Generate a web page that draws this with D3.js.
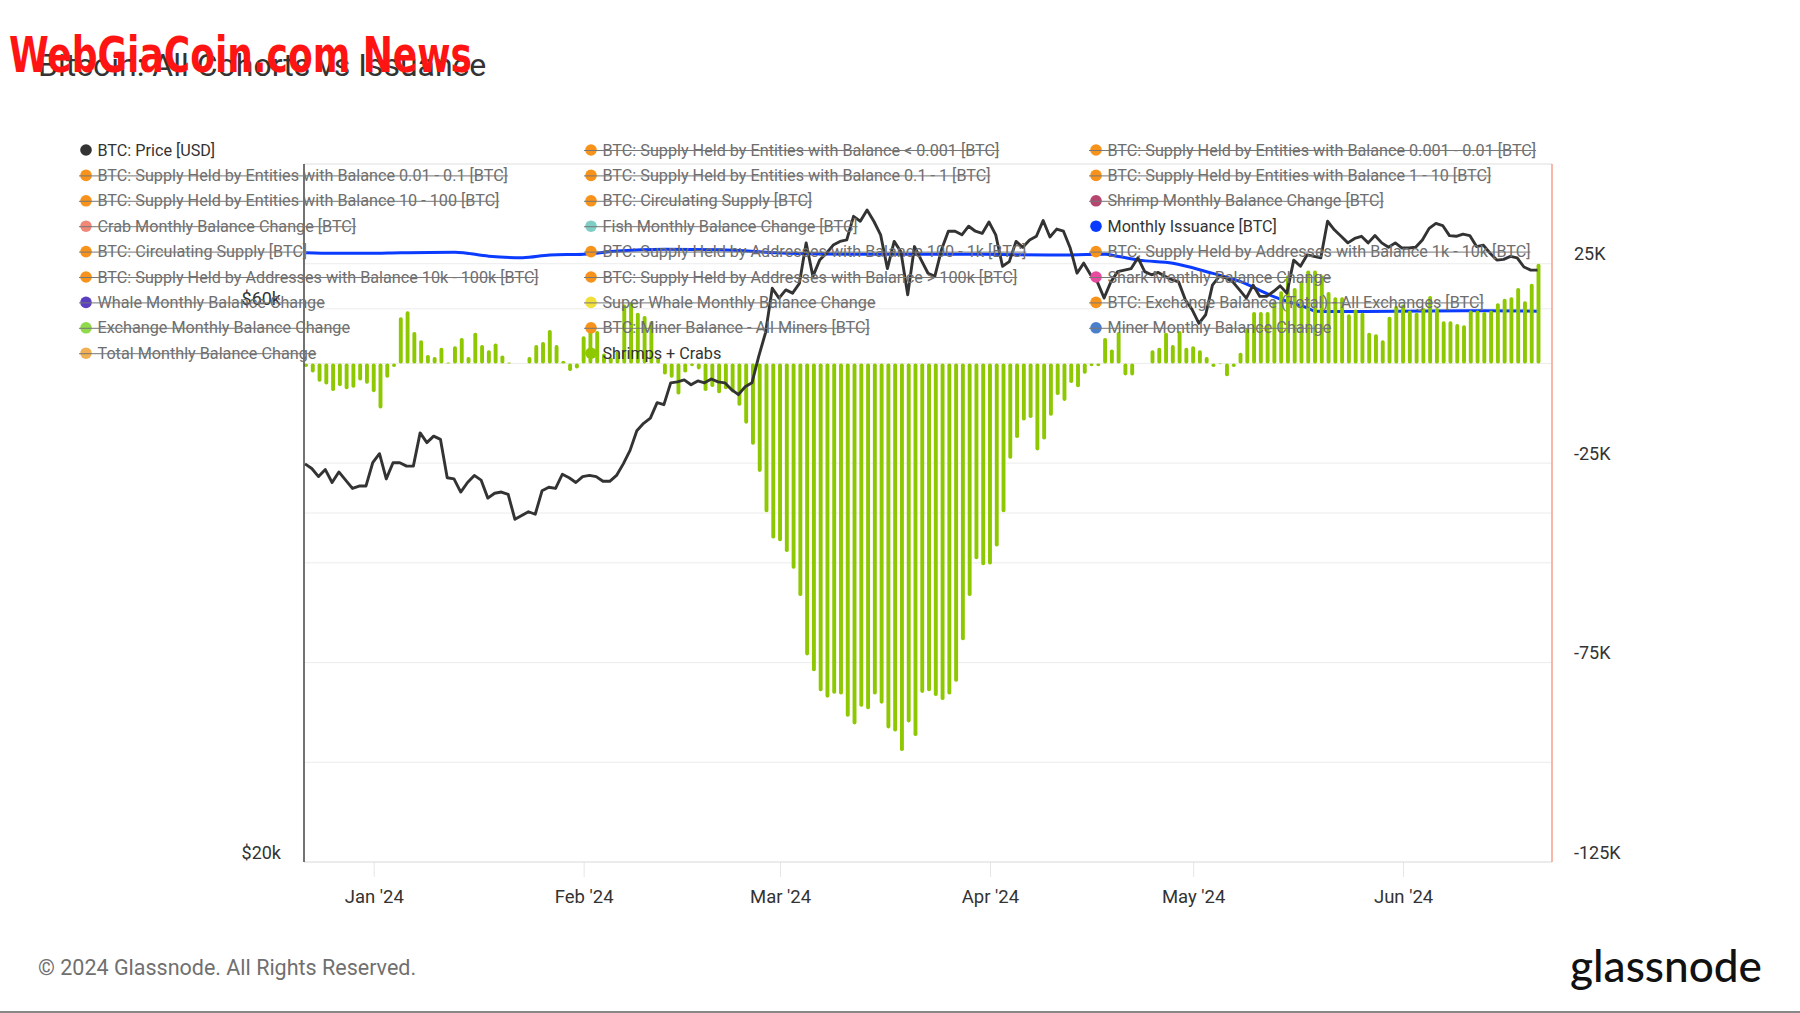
<!DOCTYPE html>
<html>
<head>
<meta charset="utf-8">
<script src="https://cdn.jsdelivr.net/npm/d3@7"></script>
<style>
  body { margin: 0; background: #fff; }
  svg { display: block; font-family: Roboto, "Noto Sans", sans-serif; }
</style>
</head>
<body>
<svg id="chart" width="1800" height="1013"></svg>
<script>
// ---- data ----
const startDay = "2023-12-22";

// BTC price, thousands of USD, one value per day from startDay
const priceK = [
  44.1, 43.7, 43.0, 43.6, 42.5, 43.4, 42.7, 42.0, 42.2, 42.2,
  44.2, 45.0, 42.8, 44.2, 44.2, 43.9, 43.9, 46.9, 46.0, 46.6,
  46.3, 42.9, 42.8, 41.7, 42.5, 43.1, 42.7, 41.2, 41.6, 41.7,
  41.5, 39.5, 39.8, 40.1, 39.9, 41.8, 42.1, 42.0, 43.2, 42.9,
  42.5, 43.0, 43.1, 43.0, 42.6, 42.6, 43.1, 44.1, 45.3, 47.1,
  47.8, 48.3, 49.8, 49.6, 51.8, 51.9, 52.1, 51.6, 52.0, 51.8,
  52.2, 51.9, 51.8,
  51.1, 50.6, 51.4, 51.8, 54.6, 57.2, 62.5, 61.3,
  62.3, 61.9, 63.1, 68.4, 64.0, 66.1, 67.0, 68.1, 68.6, 68.8,
  72.1, 71.4, 73.0, 71.4, 69.5, 65.0, 68.6, 67.2, 61.7, 67.9,
  66.1, 64.4, 64.0, 67.5, 70.0, 70.0, 69.5, 70.7, 70.0, 69.7,
  71.3, 69.5, 65.3, 65.9, 68.6, 67.8, 68.8, 69.3, 71.5, 69.2,
  70.3, 70.0, 67.7, 64.4, 65.7, 64.2, 63.3, 61.3, 63.3, 64.6,
  64.8, 65.0,
  66.4, 64.6, 64.2, 64.5, 64.0, 63.6, 63.3,
  61.1, 59.9, 58.3, 59.3, 62.9, 64.0, 63.8, 63.3, 62.3, 61.3,
  62.9, 61.5, 61.5, 62.1, 62.8, 61.9, 66.1, 65.3, 66.8, 66.6,
  66.4, 71.4, 70.2, 69.3, 68.4, 69.0, 69.3, 68.4, 69.4, 68.4,
  67.8, 68.4, 67.7, 67.7, 67.8, 68.8, 70.4, 71.1, 70.8, 69.4,
  69.3, 69.6, 69.4, 67.9, 68.1, 67.0, 66.1, 66.2, 66.6, 66.4,
  65.2, 64.8, 64.8
];

// Shrimps + Crabs monthly balance change, thousands of BTC, daily from startDay
const shrimpsCrabsK = [
  -0.9, -2.3, -4.6, -5.3, -6.9, -5.7, -6.5, -6.1, -4.3, -5.1, -7.2, -11.3, -3.6, -0.9,
  11.6, 13.1, 7.9, 5.8, 2.1, 1.6, 3.9, 0.25, 4.3, 6.4, 1.6, 7.7, 4.6, 3.3, 5.0, 2.0,
  0.25, 0, 0, 1.6, 4.6, 5.4, 8.4, 4.6, 0.6,
  -1.9, -1.3, 6.8, 8.1, 8.1, 2.5, 1.5, 3.0, 14.8, 15.4, 12.7, 11.9, 10.6, 1.4,
  -2.8, -3.6, -7.8, -2.3, -0.7, -1.5, -6.9, -5.9, -7.5,
  -6.5, -7.3, -10.6, -15.1, -20.4, -27.2, -37.3, -43.9, -44.6, -47.3,
  -51.5, -58.3, -73.2, -77.2, -82.2, -83.8, -82.8, -83.0, -88.6, -90.5,
  -86.1, -86.7, -83.0, -85.3, -91.5, -92.3, -97.2, -90.0, -93.4, -82.6,
  -82.2, -83.4, -84.4, -83.0, -79.8, -69.4, -58.3, -49.1, -50.6, -50.4,
  -45.9, -37.3, -23.9, -18.7, -14.3, -13.7, -21.8, -19.1, -13.1, -7.9,
  -9.4, -4.9, -6.0, -2.6, -0.7, -0.7, 6.4, 3.5, 7.9, -3.0, -3.0,
  0, 0,
  3.3, 3.9, 7.7, 4.6, 8.1, 3.9, 4.3, 3.3, 1.6, -0.9, -0.2, -3.2, -0.9, 2.7, 8.9,
  12.9, 12.9, 12.9, 15.6, 18.1, 22.1, 18.9, 20.5, 23.3, 23.3, 22.1, 17.9, 16.6, 16.6,
  12.3, 13.5, 12.7, 7.7, 7.3, 5.8, 11.7, 14.4, 14.8, 13.3, 12.7, 13.9, 16.9, 13.9,
  10.6, 10.6, 9.9, 9.6, 13.3, 13.3, 12.9, 13.3, 15.1, 16.2, 16.6, 18.9, 15.6, 20.0, 25.0
];

// Monthly issuance, thousands of BTC
const issuanceDates = [
  "2023-12-22", "2023-12-26", "2023-12-31", "2024-01-05", "2024-01-13", "2024-01-18",
  "2024-01-23", "2024-01-27", "2024-02-01", "2024-02-06", "2024-02-13", "2024-02-21",
  "2024-03-02", "2024-03-12", "2024-03-22", "2024-03-31", "2024-04-10", "2024-04-18",
  "2024-04-20", "2024-04-23", "2024-04-28", "2024-05-03", "2024-05-08", "2024-05-13",
  "2024-05-15", "2024-05-18", "2024-05-19", "2024-05-22", "2024-05-31", "2024-06-10",
  "2024-06-21"
];
const issuanceK = [
  27.75, 27.6, 27.6, 27.75, 27.9, 26.9,
  26.5, 27.2, 27.4, 28.2, 28.6, 28.5,
  27.6, 27.35, 27.35, 27.35, 27.2, 27.35,
  26.8, 25.9, 25.1, 23.0, 20.5, 16.7,
  15.5, 13.8, 13.1, 13.0, 13.1, 13.2,
  13.1
];

const monthTicks = ["2024-01-01", "2024-02-01", "2024-03-01", "2024-04-01", "2024-05-01", "2024-06-01"];
const rightTickValues = [25000, -25000, -75000, -125000];
const rightGridValues = [50000, 25000, 0, -25000, -50000, -75000, -100000];
const leftTickValues = [60000, 20000];
const leftGridValues = [60000, 40000];

const legendLabels = [
  "BTC: Price [USD]",
  "BTC: Supply Held by Entities with Balance < 0.001 [BTC]",
  "BTC: Supply Held by Entities with Balance 0.001 - 0.01 [BTC]",
  "BTC: Supply Held by Entities with Balance 0.01 - 0.1 [BTC]",
  "BTC: Supply Held by Entities with Balance 0.1 - 1 [BTC]",
  "BTC: Supply Held by Entities with Balance 1 - 10 [BTC]",
  "BTC: Supply Held by Entities with Balance 10 - 100 [BTC]",
  "BTC: Circulating Supply [BTC]",
  "Shrimp Monthly Balance Change [BTC]",
  "Crab Monthly Balance Change [BTC]",
  "Fish Monthly Balance Change [BTC]",
  "Monthly Issuance [BTC]",
  "BTC: Circulating Supply [BTC]",
  "BTC: Supply Held by Addresses with Balance 100 - 1k [BTC]",
  "BTC: Supply Held by Addresses with Balance 1k - 10k [BTC]",
  "BTC: Supply Held by Addresses with Balance 10k - 100k [BTC]",
  "BTC: Supply Held by Addresses with Balance > 100k [BTC]",
  "Shark Monthly Balance Change",
  "Whale Monthly Balance Change",
  "Super Whale Monthly Balance Change",
  "BTC: Exchange Balance (Total) - All Exchanges [BTC]",
  "Exchange Monthly Balance Change",
  "BTC: Miner Balance - All Miners [BTC]",
  "Miner Monthly Balance Change",
  "Total Monthly Balance Change",
  "Shrimps + Crabs"
];
const legendActive = [0, 11, 25];

// ---- styles ----
const ORANGE = "#f7931a";
const legendColors = [
  "#333333", ORANGE, ORANGE, ORANGE, ORANGE, ORANGE, ORANGE, ORANGE, "#b5446e",
  "#f08878", "#7fcdc4", "#0b3bff", ORANGE, ORANGE, ORANGE, ORANGE, ORANGE, "#e84a9f",
  "#5a3fc0", "#f2e03a", ORANGE, "#8fd94a", ORANGE, "#4a7fcc", "#f2b055", "#8dc800"
];
const barColor = "#8dc800";
const priceColor = "#333333";
const issuanceColor = "#0b3bff";

// ---- layout ----
const plot = { left: 304, right: 1552, top: 164, bottom: 862 };
const parse = d3.utcParse("%Y-%m-%d");
const day0 = parse(startDay);
const dayAt = (i) => d3.utcDay.offset(day0, i);

const svg = d3.select("#chart");

const x = d3.scaleUtc()
  .domain([day0, dayAt(182)])
  .range([306, 1538.5]);

const yPrice = d3.scaleLog()
  .domain([20000, 80000])
  .range([plot.bottom, plot.top]);

const yRight = d3.scaleLinear()
  .domain([-125000, 50000])
  .range([plot.bottom, plot.top]);

// gridlines
const grid = svg.append("g").attr("stroke", "#ececec").attr("stroke-width", 1);
grid.selectAll("line.r")
  .data(rightGridValues)
  .join("line")
  .attr("class", "r")
  .attr("x1", plot.left).attr("x2", plot.right)
  .attr("y1", (d) => yRight(d)).attr("y2", (d) => yRight(d));
grid.selectAll("line.l")
  .data(leftGridValues)
  .join("line")
  .attr("class", "l")
  .attr("x1", plot.left).attr("x2", plot.right)
  .attr("y1", (d) => yPrice(d)).attr("y2", (d) => yPrice(d));

// x axis (light tick marks, labels)
const xAxis = d3.axisBottom(x)
  .tickValues(monthTicks.map(parse))
  .tickFormat(d3.utcFormat("%b '%y"))
  .tickSize(15)
  .tickPadding(13);

const gx = svg.append("g")
  .attr("transform", `translate(0,${plot.bottom})`)
  .call(xAxis);
gx.select(".domain").remove();
gx.selectAll(".tick line").attr("stroke", "#e6e6e6");
gx.selectAll(".tick text")
  .attr("fill", "#333")
  .style("font-size", "18.5px")
  .style("font-family", "Roboto, sans-serif");

svg.append("line")
  .attr("x1", plot.left).attr("x2", plot.right)
  .attr("y1", plot.bottom).attr("y2", plot.bottom)
  .attr("stroke", "#d8d8d8");

// issuance line (behind bars)
const issuance = issuanceDates.map((d, i) => ({ date: parse(d), v: issuanceK[i] * 1000 }));
svg.append("path")
  .datum(issuance)
  .attr("fill", "none")
  .attr("stroke", issuanceColor)
  .attr("stroke-width", 3)
  .attr("d", d3.line()
    .x((d) => x(d.date))
    .y((d) => yRight(d.v))
    .curve(d3.curveMonotoneX));

// Shrimps + Crabs bars
const bars = shrimpsCrabsK.map((v, i) => ({ date: dayAt(i), v: v * 1000 }));
const barW = 3.9;
svg.append("g")
  .selectAll("rect")
  .data(bars)
  .join("rect")
  .attr("x", (d) => x(d.date) - barW / 2)
  .attr("width", barW)
  .attr("y", (d) => yRight(Math.max(d.v, 0)))
  .attr("height", (d) => Math.abs(yRight(d.v) - yRight(0)))
  .attr("rx", 1.8)
  .attr("fill", barColor);

// price line
const price = priceK.map((v, i) => ({ date: dayAt(i), v: v * 1000 }));
svg.append("path")
  .datum(price)
  .attr("fill", "none")
  .attr("stroke", priceColor)
  .attr("stroke-width", 2.9)
  .attr("stroke-linejoin", "round")
  .attr("d", d3.line()
    .x((d) => x(d.date) - 1)
    .y((d) => yPrice(d.v)));

// frame
svg.append("line")
  .attr("x1", plot.left).attr("x2", plot.right)
  .attr("y1", plot.top).attr("y2", plot.top)
  .attr("stroke", "#e8e8e8");
svg.append("line")
  .attr("x1", plot.left).attr("x2", plot.left)
  .attr("y1", plot.top).attr("y2", plot.bottom)
  .attr("stroke", "#444").attr("stroke-width", 1.5);
svg.append("line")
  .attr("x1", plot.right).attr("x2", plot.right)
  .attr("y1", plot.top).attr("y2", plot.bottom)
  .attr("stroke", "#f4a08c").attr("stroke-width", 1.5);

// left axis labels
const gl = svg.append("g")
  .attr("transform", `translate(${plot.left},0)`)
  .call(d3.axisLeft(yPrice)
    .tickValues(leftTickValues)
    .tickFormat((d) => "$" + d / 1000 + "k")
    .tickSize(0)
    .tickPadding(23));
gl.select(".domain").remove();
gl.selectAll("text")
  .attr("fill", "#333")
  .attr("dy", "-4px")
  .style("font-size", "18px")
  .style("font-family", "Roboto, sans-serif");

// right axis labels
const gr = svg.append("g")
  .attr("transform", `translate(${plot.right},0)`)
  .call(d3.axisRight(yRight)
    .tickValues(rightTickValues)
    .tickFormat((d) => d / 1000 + "K")
    .tickSize(0)
    .tickPadding(22));
gr.select(".domain").remove();
gr.selectAll("text")
  .attr("fill", "#333")
  .attr("dy", "-4px")
  .style("font-size", "18px")
  .style("font-family", "Roboto, sans-serif");

// legend
const colX = [86, 591, 1096];
const rowY0 = 150, rowStep = 25.4;
const legend = svg.append("g").style("font-size", "16.2px");
legendLabels.forEach((label, i) => {
  const cx = colX[i % 3];
  const cy = rowY0 + Math.floor(i / 3) * rowStep;
  const on = legendActive.includes(i);
  const g = legend.append("g");
  g.append("circle")
    .attr("cx", cx).attr("cy", cy).attr("r", 5.8)
    .attr("fill", legendColors[i]);
  const t = g.append("text")
    .attr("x", cx + 11.5).attr("y", cy)
    .attr("dy", "0.35em")
    .attr("fill", on ? "#333" : "#6e6e6e")
    .text(label);
  if (!on) {
    const w = t.node().getComputedTextLength();
    g.append("line")
      .attr("x1", cx - 7).attr("x2", cx + 11.5 + w)
      .attr("y1", cy + 0.5).attr("y2", cy + 0.5)
      .attr("stroke", "#777").attr("stroke-width", 1);
  }
});

// title, watermark, footer
svg.append("text")
  .attr("x", 38).attr("y", 76)
  .attr("fill", "#333")
  .style("font-size", "32px")
  .text("Bitcoin: All Cohorts vs Issuance");

svg.append("text")
  .attr("x", 9).attr("y", 72)
  .attr("fill", "#ff1414")
  .attr("textLength", 463)
  .attr("lengthAdjust", "spacingAndGlyphs")
  .style("font-family", "'Liberation Sans Narrow', 'DejaVu Sans Condensed', sans-serif")
  .style("font-weight", "bold")
  .style("font-size", "50px")
  .text("WebGiaCoin.com News");

svg.append("text")
  .attr("x", 38).attr("y", 975)
  .attr("fill", "#707070")
  .style("font-size", "21.5px")
  .text("© 2024 Glassnode. All Rights Reserved.");

svg.append("text")
  .attr("x", 1570).attr("y", 982)
  .attr("fill", "#111")
  .attr("textLength", 192)
  .attr("lengthAdjust", "spacingAndGlyphs")
  .style("font-family", "Lato, 'Noto Sans', sans-serif")
  .style("font-weight", "500")
  .style("font-size", "44px")
  .text("glassnode");

svg.append("line")
  .attr("x1", 0).attr("x2", 1800)
  .attr("y1", 1012).attr("y2", 1012)
  .attr("stroke", "#888").attr("stroke-width", 2);
</script>
</body>
</html>
